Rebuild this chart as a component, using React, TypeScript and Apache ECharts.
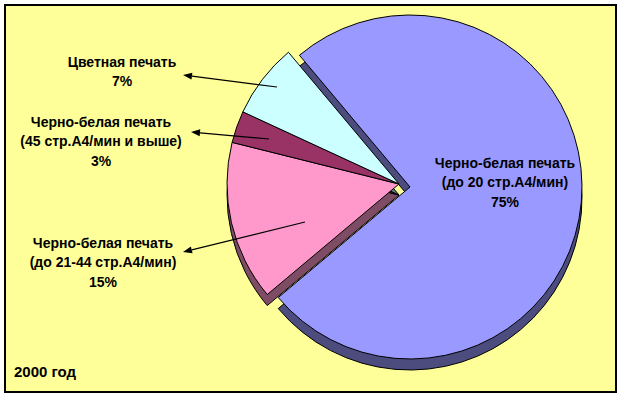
import React, { useEffect, useRef } from "react";
import * as echarts from "echarts";

// ---- data ----
const sliceTitles = [
  "Черно-белая печать",
  "Черно-белая печать",
  "Черно-белая печать",
  "Цветная печать",
];
const sliceSubtitles = [
  "(до 20 стр.А4/мин)",
  "(до 21-44 стр.А4/мин)",
  "(45 стр.А4/мин и выше)",
  "",
];
const shares = [75, 15, 3, 7];
const yearLabel = "2000 год";

// ---- styling / layout ----
const topColors = ["#9999FF", "#FF99CC", "#993366", "#CCFFFF"];
const sideColors = ["#4C4C7F", "#7F4C66", "#4C1933", "#667F7F"];
const labelAnchors: [number, number][] = [
  [505, 163],
  [103, 243],
  [101, 122],
  [122, 62],
];
const arrows: ([number, number][] | null)[] = [
  null,
  [
    [305, 222],
    [183, 252],
  ],
  [
    [269, 139],
    [191, 132],
  ],
  [
    [277, 87],
    [183, 75],
  ],
];
const FONT = "'Liberation Sans', Arial, sans-serif";
const R = 172;
const DEPTH = 11;
const BIG_CENTER: [number, number] = [410, 187];
const SMALL_CENTER: [number, number] = [399, 184];

function pieLayer(
  center: [number, number],
  visible: (i: number) => boolean,
  colors: string[],
  z: number
) {
  return {
    type: "pie",
    center,
    radius: [0, R],
    startAngle: 130,
    clockwise: true,
    silent: true,
    z,
    label: { show: false },
    labelLine: { show: false },
    emphasis: { disabled: true },
    data: shares.map((v, i) => ({
      value: v,
      name: sliceTitles[i] + " " + sliceSubtitles[i],
      itemStyle: visible(i)
        ? { color: colors[i], borderColor: "#000", borderWidth: 1 }
        : { color: "rgba(0,0,0,0)", borderWidth: 0 },
    })),
  };
}

export default function App() {
  const ref = useRef<HTMLDivElement>(null);
  useEffect(() => {
    if (!ref.current) return;
    const chart = echarts.init(ref.current, undefined, { renderer: "svg" });
    const isBig = (i: number) => i === 0;
    const isSmall = (i: number) => i !== 0;

    const graphics: any[] = [];
    graphics.push({
      type: "rect",
      z: -10,
      shape: { x: 5, y: 5, width: 611, height: 387 },
      style: { fill: "#FFFF99", stroke: "#000", lineWidth: 2 },
      silent: true,
    });
    shares.forEach((v, i) => {
      const lines = [sliceTitles[i]];
      if (sliceSubtitles[i]) lines.push(sliceSubtitles[i]);
      lines.push(v + "%");
      const [cx, cy] = labelAnchors[i];
      graphics.push({
        type: "text",
        z: 20,
        x: cx,
        y: cy - 10,
        style: {
          text: lines.join("\n"),
          fill: "#000",
          font: `bold 14px ${FONT}`,
          lineHeight: 19.5,
          align: "center",
          verticalAlign: "top",
        },
      });
      const a = arrows[i];
      if (a) {
        const [[x1, y1], [x2, y2]] = a;
        const dx = x2 - x1;
        const dy = y2 - y1;
        const len = Math.hypot(dx, dy);
        const ux = dx / len;
        const uy = dy / len;
        const hl = 9;
        const hw = 3.5;
        const bx = x2 - ux * hl;
        const by = y2 - uy * hl;
        graphics.push({
          type: "line",
          z: 20,
          shape: { x1, y1, x2: bx, y2: by },
          style: { stroke: "#000", lineWidth: 1.2 },
        });
        graphics.push({
          type: "polygon",
          z: 20,
          shape: {
            points: [
              [x2, y2],
              [bx - uy * hw, by + ux * hw],
              [bx + uy * hw, by - ux * hw],
            ],
          },
          style: { fill: "#000" },
        });
      }
    });
    graphics.push({
      type: "text",
      z: 20,
      x: 14,
      y: 364,
      style: {
        text: yearLabel,
        fill: "#000",
        font: `bold 15px ${FONT}`,
      },
    });

    chart.setOption({
      animation: false,
      backgroundColor: "#FFFFFF",
      graphic: graphics,
      series: [
        pieLayer([BIG_CENTER[0], BIG_CENTER[1] + DEPTH], isBig, sideColors, 1),
        pieLayer([SMALL_CENTER[0], SMALL_CENTER[1] + DEPTH], isSmall, sideColors, 2),
        pieLayer(BIG_CENTER, isBig, topColors, 3),
        pieLayer(SMALL_CENTER, isSmall, topColors, 4),
      ],
    });
    return () => chart.dispose();
  }, []);
  return (
    <div
      ref={ref}
      style={{ position: "absolute", left: 0, top: 0, width: 623, height: 398 }}
    />
  );
}
